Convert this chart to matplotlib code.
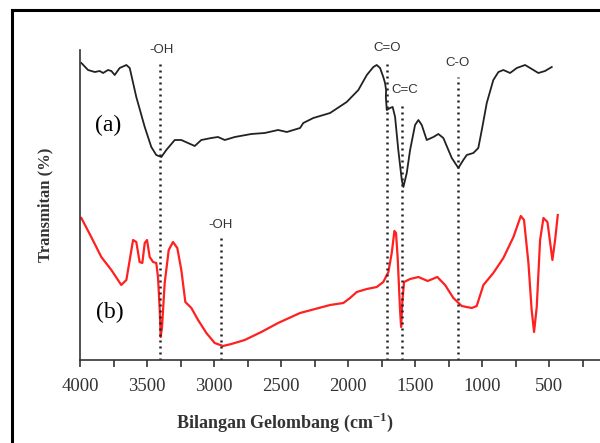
import matplotlib.pyplot as plt
from matplotlib.lines import Line2D
from matplotlib.ticker import MultipleLocator

plt.rcParams["mathtext.fontset"] = "custom"
plt.rcParams["mathtext.rm"] = "Liberation Serif"
plt.rcParams["mathtext.bf"] = "Liberation Serif:bold"

# curve (a), black
wn_a = [3990, 3940, 3890, 3853, 3828, 3791, 3766, 3741, 3704, 3654, 3629, 3580,
        3517, 3468, 3431, 3393, 3356, 3293, 3244, 3194, 3144, 3095, 3020, 2970,
        2920, 2845, 2722, 2622, 2522, 2457, 2358, 2334, 2259, 2134, 2010, 1923,
        1860, 1811, 1786, 1761, 1737, 1724, 1716, 1718, 1711, 1687, 1667, 1649,
        1625, 1599, 1587, 1562, 1537, 1500, 1475, 1450, 1413, 1363, 1326, 1289,
        1226, 1177, 1140, 1114, 1065, 1028, 1002, 965, 916, 878, 841, 791, 741,
        679, 629, 580, 530, 480]
t_a = [297, 290, 288, 289, 287, 290, 289, 285, 292, 295, 292, 263, 233, 213,
       205, 203, 210, 220, 220, 217, 214, 220, 222, 223, 220, 223, 226, 227,
       230, 228, 232, 237, 242, 247, 258, 270, 285, 293, 295, 292, 283, 277,
       270, 263, 250, 252, 253, 243, 210, 180, 173, 187, 210, 235, 240, 235,
       220, 223, 226, 222, 202, 192, 200, 205, 207, 212, 230, 257, 280, 288,
       290, 287, 292, 295, 291, 287, 289, 293]

# curve (b), red
wn_b = [3990, 3916, 3841, 3766, 3692, 3654, 3629, 3604, 3580, 3555, 3535, 3517,
        3500, 3480, 3455, 3431, 3418, 3405, 3398, 3388, 3368, 3338, 3306, 3274,
        3244, 3214, 3169, 3119, 3057, 2995, 2933, 2871, 2771, 2647, 2522, 2358,
        2134, 2035, 1985, 1935, 1860, 1786, 1737, 1699, 1674, 1654, 1642, 1630,
        1612, 1604, 1594, 1582, 1537, 1475, 1406, 1334, 1276, 1214, 1152, 1077,
        1040, 990, 916, 841, 766, 711, 687, 654, 630, 612, 592, 567, 542, 512,
        475, 455, 435]
t_b = [142, 123, 103, 90, 75, 80, 100, 120, 118, 98, 97, 117, 120, 103, 98,
       97, 83, 50, 23, 33, 77, 110, 118, 112, 90, 58, 52, 40, 27, 17, 14, 16,
       20, 28, 37, 47, 55, 57, 62, 68, 71, 73, 78, 88, 107, 129, 127, 103, 50,
       33, 60, 78, 81, 83, 79, 83, 75, 62, 54, 52, 54, 75, 87, 102, 123, 144,
       140, 97, 50, 28, 53, 120, 142, 138, 100, 120, 145]

# band markers: position, top of dotted line, label, label position
band_pos = [3400, 2950, 1710, 1600, 1180]
band_top = [300, 123, 300, 257, 283]
band_lbl = ["-OH", "-OH", "C=O", "C=C", "C-O"]
band_lbl_x = [3395, 2950, 1710, 1575, 1180]
band_lbl_y = [310, 135, 312, 270, 297]

fig = plt.figure(figsize=(6, 4.43), dpi=100)
ax = fig.add_axes([80/600, 1-360/443, 520/600, 310/443])

ax.plot(wn_a, t_a, color="#222222", lw=1.3)
ax.plot(wn_b, t_b, color="#ff2020", lw=1.6)

for x, top in zip(band_pos, band_top):
    ax.plot([x, x], [0, top], color="#222222", lw=1.8, ls=(0, (0.8, 1.6)))
for x, y, s in zip(band_lbl_x, band_lbl_y, band_lbl):
    ax.text(x, y, s, ha="center", va="center", fontsize=9.5,
            family="Liberation Sans", color="#333333")

ax.text(3790, 235, "(a)", ha="center", va="center", fontsize=17, family="Liberation Serif")
ax.text(3780, 48, "(b)", ha="center", va="center", fontsize=17, family="Liberation Serif")

ax.set_xlim(4000, 120)
ax.set_ylim(0, 310)
ax.xaxis.set_minor_locator(MultipleLocator(250))
ax.set_xticks([4000, 3500, 3000, 2500, 2000, 1500, 1000, 500])
ax.set_yticks([])
ax.tick_params(axis="x", which="both", direction="out", length=5, width=1.2,
               color="#333333", pad=8)
for lbl in ax.get_xticklabels():
    lbl.set_family("Liberation Serif")
    lbl.set_fontsize(13.5)
    lbl.set_color("#333333")
for s in ["top", "right"]:
    ax.spines[s].set_visible(False)
for s in ["left", "bottom"]:
    ax.spines[s].set_linewidth(1.2)
    ax.spines[s].set_color("#333333")

fig.text(285/600, 1-422/443, r"Bilangan Gelombang (cm$^{\mathbf{-1}}$)", ha="center",
         va="center", fontsize=13, family="Liberation Serif", fontweight="bold",
         color="#333333")
fig.text(45/600, 1-205/443, "Transmitan (%)", ha="center", va="center", rotation=90,
         fontsize=12, family="Liberation Serif", fontweight="bold", color="#333333")

# outer frame
fig.add_artist(Line2D([12/600, 12/600], [0, 1-10/443], color="black", lw=2.2,
                      transform=fig.transFigure))
fig.add_artist(Line2D([12/600, 1], [1-10/443, 1-10/443], color="black", lw=2.2,
                      transform=fig.transFigure))

fig.savefig("out.png", dpi=100)
